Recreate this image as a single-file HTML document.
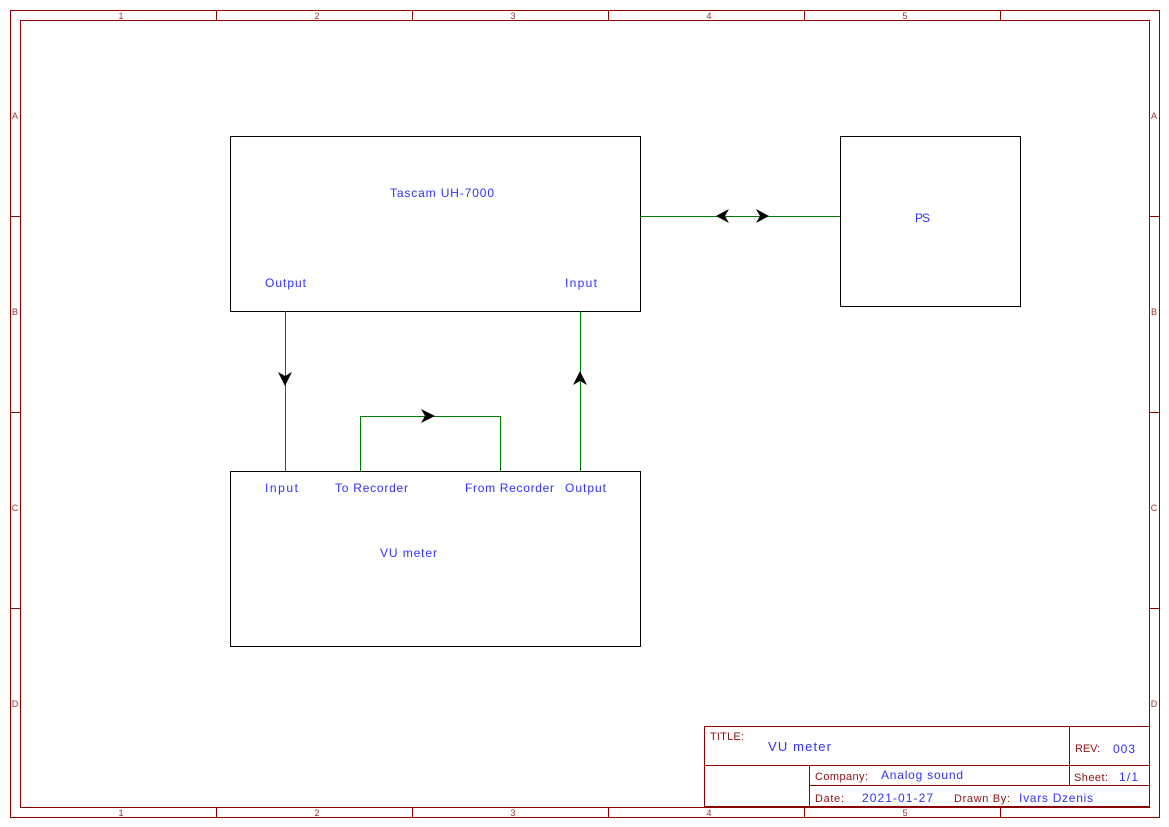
<!DOCTYPE html>
<html><head><meta charset="utf-8"><style>
html,body{margin:0;padding:0;background:#fff;}
svg{display:block;}
text{font-family:"Liberation Sans",sans-serif;}
.b{fill:#3030ff;font-size:12px;}
.r{fill:#8b1010;font-size:11px;}
.s{fill:#a03030;font-size:9px;}
</style></head><body>
<svg width="1169" height="827" viewBox="0 0 1169 827" xmlns="http://www.w3.org/2000/svg">
<g stroke="#8b0000" stroke-width="1" fill="none" shape-rendering="crispEdges">
<rect x="10.5" y="10.5" width="1149" height="807"/>
<rect x="20.5" y="20.5" width="1129" height="787"/>
<path d="M216.5 10V20M412.5 10V20M608.5 10V20M804.5 10V20M1000.5 10V20"/>
<path d="M216.5 807V817M412.5 807V817M608.5 807V817M804.5 807V817M1000.5 807V817"/>
<path d="M10 216.5H20M10 412.5H20M10 608.5H20M1149 216.5H1159M1149 412.5H1159M1149 608.5H1159"/>
<rect x="704.5" y="726.5" width="445" height="80"/>
<path d="M704 765.5H1149M809.5 765V806M809 785.5H1149M1069.5 726V785"/>
</g>
<g class="s" text-anchor="middle">
<text x="121" y="19">1</text><text x="317" y="19">2</text><text x="513" y="19">3</text><text x="709" y="19">4</text><text x="905" y="19">5</text>
<text x="121" y="816">1</text><text x="317" y="816">2</text><text x="513" y="816">3</text><text x="709" y="816">4</text><text x="905" y="816">5</text>
<text x="15" y="119">A</text><text x="15" y="315">B</text><text x="15" y="511">C</text><text x="15" y="707">D</text>
<text x="1154" y="119">A</text><text x="1154" y="315">B</text><text x="1154" y="511">C</text><text x="1154" y="707">D</text>
</g>
<g class="r" lengthAdjust="spacing">
<text x="710" y="740" textLength="34">TITLE:</text>
<text x="1075" y="752" textLength="25">REV:</text>
<text x="815" y="780" textLength="53">Company:</text>
<text x="1074" y="781" textLength="34">Sheet:</text>
<text x="815" y="802" textLength="29">Date:</text>
<text x="954" y="802" textLength="56">Drawn By:</text>
</g>
<g class="b">
<text x="768" y="751" font-size="13" textLength="63">VU meter</text>
<text x="1113" y="753" textLength="22">003</text>
<text x="881" y="779" textLength="82">Analog sound</text>
<text x="1119" y="781" textLength="19">1/1</text>
<text x="862" y="802" textLength="71">2021-01-27</text>
<text x="1019" y="802" textLength="74">Ivars Dzenis</text>
</g>
<g stroke="#000" stroke-width="1" fill="none" shape-rendering="crispEdges">
<rect x="230.5" y="136.5" width="410" height="175"/>
<rect x="840.5" y="136.5" width="180" height="170"/>
<rect x="230.5" y="471.5" width="410" height="175"/>
</g>
<g stroke="#008000" stroke-width="1" fill="none" shape-rendering="crispEdges">
<path d="M640 216.5H840"/>
<path d="M285.5 311V471"/>
<path d="M580.5 311V471"/>
<path d="M360.5 471V416.5H500.5V471"/>
</g>
<g fill="#000">
<path d="M716 216 L729 209 L725 216 L729 223 Z"/>
<path d="M769 216 L756 209 L760 216 L756 223 Z"/>
<path d="M285 386 L278 372 L285 376 L292 372 Z"/>
<path d="M580 371 L573 385 L580 381 L587 385 Z"/>
<path d="M435 416 L421 409 L425 416 L421 423 Z"/>
</g>
<g class="b">
<text x="390" y="197" textLength="104">Tascam UH-7000</text>
<text x="265" y="287" textLength="41">Output</text>
<text x="565" y="287" textLength="32">Input</text>
<text x="915" y="222" textLength="15">PS</text>
<text x="265" y="492" textLength="33">Input</text>
<text x="335" y="492" textLength="73">To Recorder</text>
<text x="465" y="492" textLength="89">From Recorder</text>
<text x="565" y="492" textLength="41">Output</text>
<text x="380" y="557" textLength="57">VU meter</text>
</g>
</svg>
</body></html>
